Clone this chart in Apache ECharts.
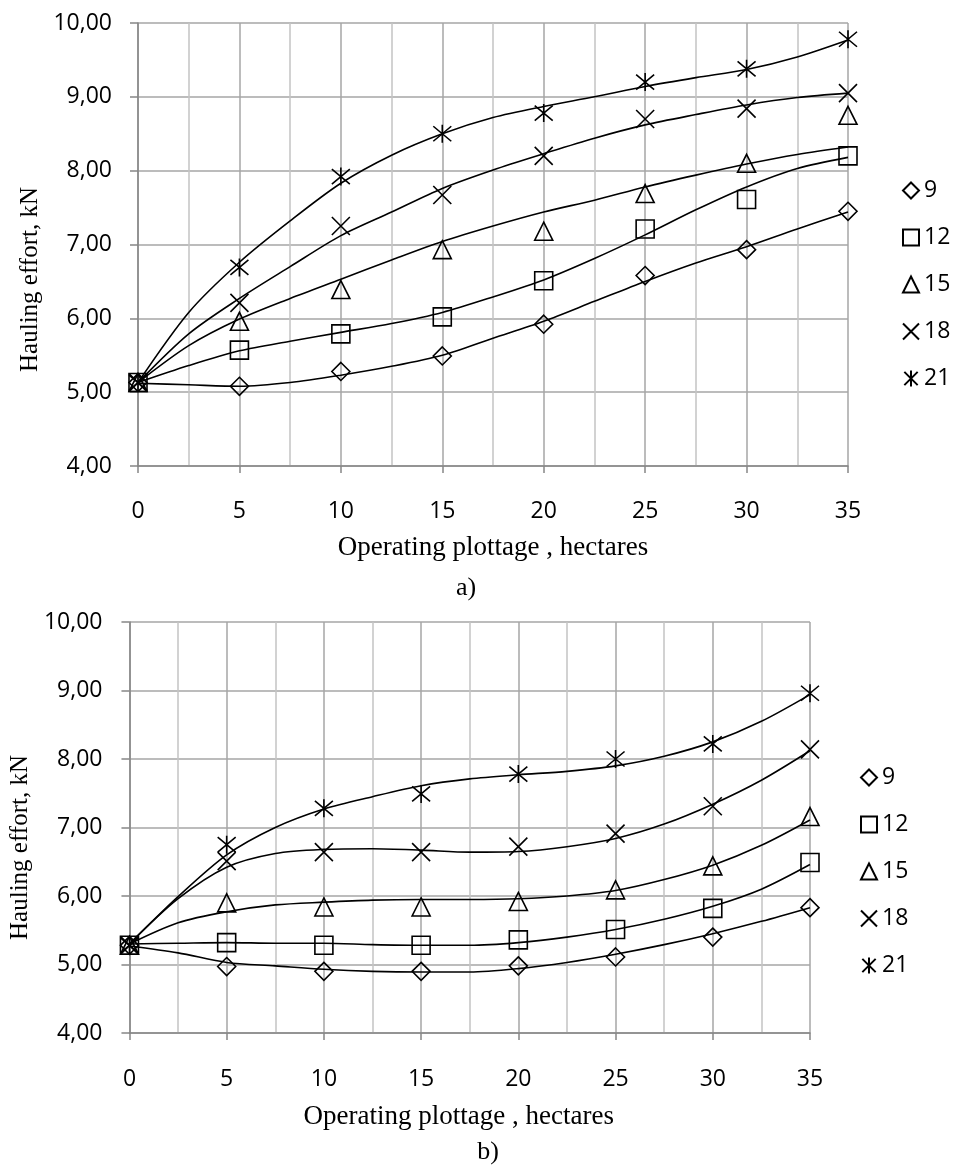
<!DOCTYPE html>
<html>
<head>
<meta charset="utf-8">
<script src="https://cdn.jsdelivr.net/npm/echarts@6/dist/echarts.min.js"></script>
<style>
html, body { margin: 0; padding: 0; background: #fff; }
#main { width: 953px; height: 1168px; }
</style>
</head>
<body>
<div id="main"></div>
<script>
// x positions of the measured points (hectares)
var xValues = [0, 5, 10, 15, 20, 25, 30, 35];
var fitX = [0, 2.5, 5, 7.5, 10, 12.5, 15, 17.5, 20, 22.5, 25, 27.5, 30, 32.5, 35];
var seriesNames = ['9', '12', '15', '18', '21'];

// a) measured points
var a9  = [5.13, 5.08, 5.28, 5.49, 5.92, 6.58, 6.93, 7.45];
var a12 = [5.13, 5.57, 5.79, 6.02, 6.51, 7.21, 7.61, 8.20];
var a15 = [5.13, 5.96, 6.39, 6.93, 7.18, 7.69, 8.10, 8.75];
var a18 = [5.13, 6.21, 7.25, 7.67, 8.20, 8.70, 8.84, 9.05];
var a21 = [5.13, 6.69, 7.92, 8.50, 8.78, 9.20, 9.38, 9.78];
// a) trend lines
var a9Fit  = [5.12, 5.10, 5.08, 5.13, 5.23, 5.35, 5.50, 5.73, 5.96, 6.23, 6.50, 6.75, 6.97, 7.21, 7.44];
var a12Fit = [5.13, 5.36, 5.56, 5.69, 5.81, 5.93, 6.08, 6.29, 6.52, 6.81, 7.13, 7.47, 7.78, 8.03, 8.18];
var a15Fit = [5.13, 5.63, 5.99, 6.27, 6.53, 6.79, 7.04, 7.25, 7.44, 7.60, 7.78, 7.94, 8.09, 8.22, 8.32];
var a18Fit = [5.13, 5.79, 6.27, 6.70, 7.12, 7.44, 7.76, 8.01, 8.23, 8.44, 8.62, 8.76, 8.89, 8.99, 9.05];
var a21Fit = [5.13, 6.08, 6.76, 7.32, 7.83, 8.21, 8.50, 8.72, 8.87, 9.00, 9.14, 9.26, 9.37, 9.54, 9.77];

// b) measured points
var b9  = [5.28, 4.97, 4.90, 4.90, 4.98, 5.11, 5.40, 5.83];
var b12 = [5.28, 5.32, 5.28, 5.28, 5.36, 5.51, 5.82, 6.49];
var b15 = [5.28, 5.90, 5.84, 5.84, 5.92, 6.09, 6.44, 7.16];
var b18 = [5.28, 6.51, 6.64, 6.64, 6.72, 6.91, 7.31, 8.14];
var b21 = [5.28, 6.75, 7.28, 7.49, 7.78, 8.00, 8.22, 8.96];
// b) trend lines
var b9Fit  = [5.27, 5.17, 5.03, 4.98, 4.93, 4.90, 4.89, 4.89, 4.94, 5.03, 5.15, 5.29, 5.45, 5.63, 5.83];
var b12Fit = [5.30, 5.31, 5.32, 5.31, 5.31, 5.29, 5.28, 5.28, 5.32, 5.40, 5.51, 5.66, 5.85, 6.10, 6.46];
var b15Fit = [5.30, 5.61, 5.77, 5.87, 5.91, 5.94, 5.95, 5.95, 5.96, 6.00, 6.08, 6.24, 6.45, 6.74, 7.11];
var b18Fit = [5.30, 5.96, 6.42, 6.62, 6.68, 6.69, 6.67, 6.64, 6.65, 6.72, 6.84, 7.05, 7.34, 7.69, 8.12];
var b21Fit = [5.30, 5.99, 6.60, 7.00, 7.27, 7.45, 7.61, 7.71, 7.77, 7.82, 7.90, 8.04, 8.25, 8.55, 8.94];

var yTicks = [4, 5, 6, 7, 8, 9, 10];

var symbols = [
    'diamond',
    'rect',
    'triangle',
    'path://M0,0L10,10M10,0L0,10',
    'path://M0,0L10,10M10,0L0,10M5,-1L5,11'
];

function pairs(xs, ys) {
    return xs.map(function (x, i) { return [x, ys[i]]; });
}

var tickFont = { fontFamily: 'Open Sans', fontSize: 23, color: '#000' };

// shift: moves the title along the axis (px), like a hand-dragged Excel title
function makeX(idx, margin, gap, shift) {
    return {
        type: 'value', gridIndex: idx, min: 0, max: 35, interval: 5,
        axisLine: { show: true, lineStyle: { color: '#868686', width: 1.5 } },
        axisTick: { show: true, length: 7, lineStyle: { color: '#868686', width: 1.5 } },
        axisLabel: Object.assign({ margin: margin }, tickFont),
        splitLine: { show: true, lineStyle: { color: '#a6a6a6', width: 1.5 } },
        minorTick: { show: false, splitNumber: 2 },
        minorSplitLine: { show: true, lineStyle: { color: '#c4c4c4', width: 1.5 } },
        name: 'Operating plottage , hectares',
        nameLocation: 'middle', nameGap: gap,
        nameTextStyle: {
            fontFamily: 'Liberation Serif', fontSize: 27, color: '#000',
            padding: shift < 0 ? [0, -2 * shift, 0, 0] : [0, 0, 0, 2 * shift]
        }
    };
}

function makeY(idx, margin, gap, shiftDown) {
    return {
        type: 'value', gridIndex: idx, min: 4, max: 10, interval: 1,
        axisLine: { show: true, lineStyle: { color: '#868686', width: 1.5 } },
        axisTick: { show: true, length: 8, lineStyle: { color: '#868686', width: 1.5 } },
        axisLabel: Object.assign({
            margin: margin,
            formatter: function (v) {
                return yTicks.indexOf(v) >= 0 ? v.toFixed(2).replace('.', ',') : '';
            }
        }, tickFont),
        splitLine: { show: true, lineStyle: { color: '#a6a6a6', width: 1.5 } },
        name: 'Hauling effort, kN',
        nameLocation: 'middle', nameGap: gap, nameRotate: 90,
        nameTextStyle: {
            fontFamily: 'Liberation Serif', fontSize: 25, color: '#000',
            padding: [0, 2 * shiftDown, 0, 0]
        }
    };
}

var groups = [
    { idx: 0, pts: [a9, a12, a15, a18, a21], fit: [a9Fit, a12Fit, a15Fit, a18Fit, a21Fit] },
    { idx: 1, pts: [b9, b12, b15, b18, b21], fit: [b9Fit, b12Fit, b15Fit, b18Fit, b21Fit] }
];

var series = [];
groups.forEach(function (g) {
    g.fit.forEach(function (ys, i) {
        series.push({
            name: seriesNames[i] + ' fit',
            type: 'line', xAxisIndex: g.idx, yAxisIndex: g.idx,
            data: pairs(fitX, ys), smooth: 0.3, showSymbol: false,
            lineStyle: { color: '#000', width: 1.6 },
            z: 3, silent: true
        });
    });
    g.pts.forEach(function (ys, i) {
        series.push({
            name: seriesNames[i],
            type: 'scatter', xAxisIndex: g.idx, yAxisIndex: g.idx,
            data: pairs(xValues, ys), symbol: symbols[i], symbolSize: 18,
            itemStyle: { color: 'transparent', borderColor: '#000', borderWidth: 1.6, opacity: 1 },
            z: 4
        });
    });
});

var legendBase = {
    orient: 'vertical', data: seriesNames,
    itemWidth: 16, itemHeight: 16, itemGap: 24,
    textStyle: tickFont, selectedMode: false
};

var option = {
    animation: false,
    backgroundColor: '#fff',
    grid: [
        { left: 138, top: 23, right: 105, bottom: 702 },
        { left: 127, top: 622, right: 143, bottom: 135 }
    ],
    xAxis: [makeX(0, 34, 68, 0), makeX(1, 35, 70, -11)],
    yAxis: [makeY(0, 26, 86, 35), makeY(1, 27, 89, 20)],
    legend: [
        Object.assign({ left: 897, top: 174 }, legendBase),
        Object.assign({ left: 855, top: 761 }, legendBase)
    ],
    graphic: [
        { type: 'text', x: 466, y: 588, style: { text: 'a)', font: '26px "Liberation Serif"', fill: '#000', textAlign: 'center', textVerticalAlign: 'middle' } },
        { type: 'text', x: 488, y: 1152, style: { text: 'b)', font: '26px "Liberation Serif"', fill: '#000', textAlign: 'center', textVerticalAlign: 'middle' } }
    ],
    series: series
};

var myChart = echarts.init(document.getElementById('main'));
myChart.setOption(option);
</script>
</body>
</html>
